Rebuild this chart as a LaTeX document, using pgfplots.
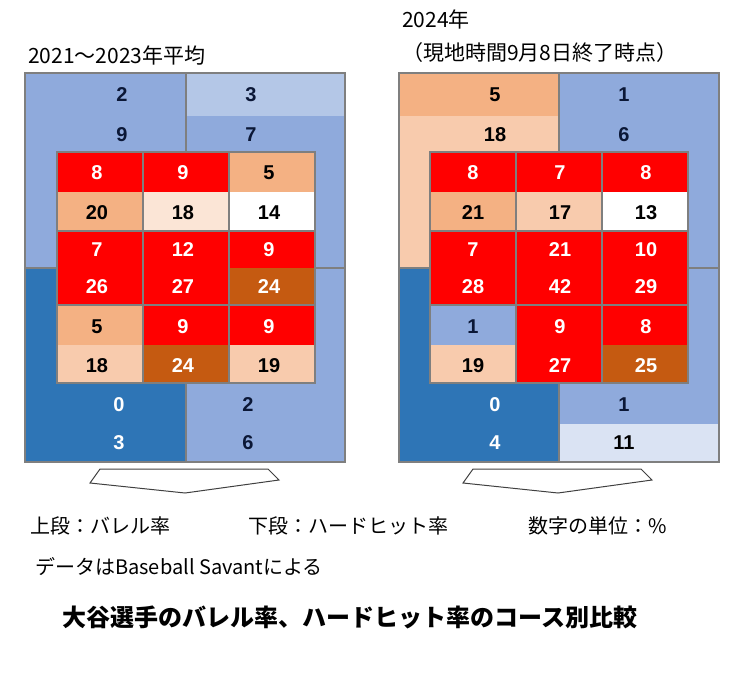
\documentclass[border=0pt]{standalone}
\usepackage{pgfplots}
\pgfplotsset{compat=1.18}
\usepackage{pgfplotstable}
\usepackage{fontspec}
\setmainfont{Liberation Sans}
\newfontfamily\cjk{Noto Sans CJK JP}

\definecolor{cred}{HTML}{FF0000}
\definecolor{corange}{HTML}{F4B183}
\definecolor{cpeach}{HTML}{F8CBAD}
\definecolor{clpeach}{HTML}{FBE5D6}
\definecolor{cbrown}{HTML}{C55A11}
\definecolor{cmblue}{HTML}{8FAADC}
\definecolor{clblue}{HTML}{B4C7E7}
\definecolor{cvlblue}{HTML}{DAE3F3}
\definecolor{cdblue}{HTML}{2E75B6}
\definecolor{cnavy}{HTML}{0B1736}
\definecolor{cgrid}{HTML}{7F7F7F}

% filled box, no edge
\newcommand{\zone}[5]{\addplot[fill=#5,draw=none] coordinates {(#1,#2)(#3,#2)(#3,#4)(#1,#4)} --cycle;}
% edge only
\newcommand{\edge}[4]{\addplot[draw=cgrid,line width=1.5pt,fill=none] coordinates {(#1,#2)(#3,#2)(#3,#4)(#1,#4)} --cycle;}

\pgfplotstableread{
x y t
119 405 0
119 443 3
97 173 8
183 173 9
97 250 7
183 250 12
269 250 9
97 287 26
183 287 27
269 287 24
183 327 9
269 327 9
183 366 24
495 405 0
495 443 4
473 173 8
560 173 7
646 173 8
473 250 7
560 250 21
646 250 10
473 287 28
560 287 42
646 287 29
560 327 9
646 327 8
560 366 27
646 366 25
}\whiteT

\pgfplotstableread{
x y t
269 173 5
97 213 20
183 213 18
269 213 14
97 327 5
97 366 18
269 366 19
495 95 5
495 135 18
624 443 11
473 213 21
560 213 17
646 213 13
473 366 19
}\blackT

\pgfplotstableread{
x y t
122 95 2
251 95 3
122 135 9
251 135 7
248 405 2
248 443 6
624 95 1
624 135 6
624 405 1
473 327 1
}\navyT

\newcommand{\numf}{\fontsize{20}{20}\selectfont\bfseries}

\begin{document}
\begin{tikzpicture}
\begin{axis}[width=746pt,height=672pt,scale only axis,
  xmin=0,xmax=746,ymin=0,ymax=672,y dir=reverse,
  hide axis,clip=false]
\addplot[draw=none] coordinates {(0,0)(746,672)};

% ---- left panel, outer zones
\zone{25}{73}{186}{116}{cmblue}
\zone{25}{116}{186}{268}{cmblue}
\zone{186}{73}{345}{116}{clblue}
\zone{186}{116}{345}{268}{cmblue}
\zone{25}{268}{186}{424}{cdblue}
\zone{25}{424}{186}{462}{cdblue}
\zone{186}{268}{345}{424}{cmblue}
\zone{186}{424}{345}{462}{cmblue}
\edge{25}{73}{186}{268}
\edge{186}{73}{345}{268}
\edge{25}{268}{186}{462}
\edge{186}{268}{345}{462}

% ---- left panel, strike zone
\zone{57}{152}{143}{192}{cred}
\zone{57}{192}{143}{231}{corange}
\zone{143}{152}{229}{192}{cred}
\zone{143}{192}{229}{231}{clpeach}
\zone{229}{152}{315}{192}{corange}
\zone{229}{192}{315}{231}{white}
\zone{57}{231}{143}{268}{cred}
\zone{57}{268}{143}{305}{cred}
\zone{143}{231}{229}{268}{cred}
\zone{143}{268}{229}{305}{cred}
\zone{229}{231}{315}{268}{cred}
\zone{229}{268}{315}{305}{cbrown}
\zone{57}{305}{143}{345}{corange}
\zone{57}{345}{143}{383}{cpeach}
\zone{143}{305}{229}{345}{cred}
\zone{143}{345}{229}{383}{cbrown}
\zone{229}{305}{315}{345}{cred}
\zone{229}{345}{315}{383}{cpeach}
\edge{57}{152}{143}{231}
\edge{143}{152}{229}{231}
\edge{229}{152}{315}{231}
\edge{57}{231}{143}{305}
\edge{143}{231}{229}{305}
\edge{229}{231}{315}{305}
\edge{57}{305}{143}{383}
\edge{143}{305}{229}{383}
\edge{229}{305}{315}{383}

% ---- right panel, outer zones
\zone{399}{73}{559}{116}{corange}
\zone{399}{116}{559}{268}{cpeach}
\zone{559}{73}{719}{116}{cmblue}
\zone{559}{116}{719}{268}{cmblue}
\zone{399}{268}{559}{424}{cdblue}
\zone{399}{424}{559}{462}{cdblue}
\zone{559}{268}{719}{424}{cmblue}
\zone{559}{424}{719}{462}{cvlblue}
\edge{399}{73}{559}{268}
\edge{559}{73}{719}{268}
\edge{399}{268}{559}{462}
\edge{559}{268}{719}{462}

% ---- right panel, strike zone
\zone{430}{152}{516}{192}{cred}
\zone{430}{192}{516}{231}{corange}
\zone{516}{152}{602}{192}{cred}
\zone{516}{192}{602}{231}{cpeach}
\zone{602}{152}{688}{192}{cred}
\zone{602}{192}{688}{231}{white}
\zone{430}{231}{516}{268}{cred}
\zone{430}{268}{516}{305}{cred}
\zone{516}{231}{602}{268}{cred}
\zone{516}{268}{602}{305}{cred}
\zone{602}{231}{688}{268}{cred}
\zone{602}{268}{688}{305}{cred}
\zone{430}{305}{516}{345}{cmblue}
\zone{430}{345}{516}{383}{cpeach}
\zone{516}{305}{602}{345}{cred}
\zone{516}{345}{602}{383}{cred}
\zone{602}{305}{688}{345}{cred}
\zone{602}{345}{688}{383}{cbrown}
\edge{430}{152}{516}{231}
\edge{516}{152}{602}{231}
\edge{602}{152}{688}{231}
\edge{430}{231}{516}{305}
\edge{516}{231}{602}{305}
\edge{602}{231}{688}{305}
\edge{430}{305}{516}{383}
\edge{516}{305}{602}{383}
\edge{602}{305}{688}{383}

% ---- home plates
\addplot[draw=black!75,line width=1pt,fill=white] coordinates {(90,483)(100,469)(268,469)(279,480)(185,493)} --cycle;
\addplot[draw=black!75,line width=1pt,fill=white] coordinates {(463,483)(473,469)(641,469)(652,480)(558,493)} --cycle;

% ---- values
\addplot[draw=none,nodes near coords,point meta=explicit symbolic,
  every node near coord/.append style={font=\numf,text=white,anchor=center,inner sep=0pt}]
  table[x=x,y=y,meta=t]{\whiteT};
\addplot[draw=none,nodes near coords,point meta=explicit symbolic,
  every node near coord/.append style={font=\numf,text=black,anchor=center,inner sep=0pt}]
  table[x=x,y=y,meta=t]{\blackT};
\addplot[draw=none,nodes near coords,point meta=explicit symbolic,
  every node near coord/.append style={font=\numf,text=cnavy,anchor=center,inner sep=0pt}]
  table[x=x,y=y,meta=t]{\navyT};

% ---- texts
\node[anchor=west,inner sep=0pt,font=\cjk\fontsize{21}{24}\selectfont] at (axis cs:28,56) {2021～2023年平均};
\node[anchor=west,inner sep=0pt,font=\cjk\fontsize{21}{24}\selectfont] at (axis cs:402,19) {2024年};
\node[anchor=west,inner sep=0pt,font=\cjk\fontsize{21}{24}\selectfont] at (axis cs:402,53) {（現地時間9月8日終了時点）};
\node[anchor=west,inner sep=0pt,font=\cjk\fontsize{20}{24}\selectfont] at (axis cs:30,526) {上段：バレル率};
\node[anchor=west,inner sep=0pt,font=\cjk\fontsize{20}{24}\selectfont] at (axis cs:248,526) {下段：ハードヒット率};
\node[anchor=west,inner sep=0pt,font=\cjk\fontsize{20}{24}\selectfont] at (axis cs:528,526) {数字の単位：\%};
\node[anchor=west,inner sep=0pt,font=\cjk\fontsize{20}{24}\selectfont] at (axis cs:35,567) {データはBaseball Savantによる};
\node[anchor=west,inner sep=0pt,font=\cjk\bfseries\fontsize{24}{28}\selectfont] at (axis cs:62,617) {大谷選手のバレル率、ハードヒット率のコース別比較};
\end{axis}
\end{tikzpicture}
\end{document}
